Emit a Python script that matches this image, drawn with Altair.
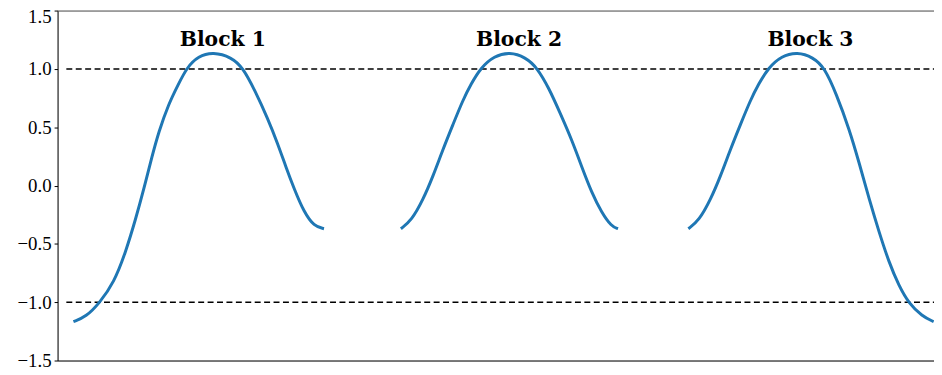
import altair as alt
import pandas as pd

# Curve readings (x in plot units 0..10, y values)
b1_x = [0.181, 0.326, 0.475, 0.645, 0.777, 0.890, 0.984, 1.078, 1.154, 1.267, 1.380, 1.474, 1.606, 1.776,
        1.983, 2.115, 2.248, 2.398, 2.511, 2.605, 2.700, 2.813, 2.927, 3.040]
b1_y = [-1.167, -1.124, -1.01, -0.83, -0.57, -0.29, -0.03, 0.25, 0.46, 0.70, 0.87, 1.01, 1.11, 1.145,
        1.10, 1.01, 0.82, 0.575, 0.36, 0.16, -0.03, -0.23, -0.35, -0.37]

b2_x = [3.917, 4.038, 4.171, 4.284, 4.397, 4.510, 4.623, 4.717, 4.830, 4.981, 5.158,
        5.339, 5.472, 5.603, 5.735, 5.868, 5.981, 6.094, 6.207, 6.320, 6.395]
b2_y = [-0.37, -0.30, -0.12, 0.08, 0.31, 0.52, 0.73, 0.87, 1.01, 1.11, 1.145,
        1.10, 1.01, 0.84, 0.62, 0.39, 0.16, -0.06, -0.23, -0.35, -0.37]

b3_x = [7.197, 7.319, 7.451, 7.564, 7.677, 7.790, 7.904, 7.998, 8.111, 8.261, 8.439,
        8.620, 8.752, 8.883, 9.035, 9.148, 9.261, 9.374, 9.487, 9.600, 9.713, 9.864, 9.996]
b3_y = [-0.37, -0.30, -0.12, 0.08, 0.31, 0.52, 0.73, 0.87, 1.01, 1.11, 1.145,
        1.10, 1.01, 0.79, 0.48, 0.19, -0.12, -0.40, -0.66, -0.86, -1.01, -1.12, -1.167]

label_text = ["Block 1", "Block 2", "Block 3"]
label_x = [1.885, 5.265, 8.59]
label_y = [1.2, 1.2, 1.2]

thresholds = [1.0, -1.0]
dash_start = 0.1
dash_end = 10.0

y_ticks = [-1.5, -1.0, -0.5, 0.0, 0.5, 1.0, 1.5]
y_top = 1.5

rows = []
for name, xs, ys in [("b1", b1_x, b1_y), ("b2", b2_x, b2_y), ("b3", b3_x, b3_y)]:
    for xv, yv in zip(xs, ys):
        rows.append({"x": xv, "y": yv, "block": name})
curve_df = pd.DataFrame(rows)
label_df = pd.DataFrame({"x": label_x, "y": label_y, "text": label_text})
thr_df = pd.DataFrame({"y": thresholds, "x": [dash_start] * 2, "x2": [dash_end] * 2})
top_df = pd.DataFrame({"y": [y_top], "x": [0.0], "x2": [10.0]})

xscale = alt.Scale(domain=[0, 10], nice=False, zero=False)
yscale = alt.Scale(domain=[-1.5, 1.5], nice=False, zero=False)

x_axis = alt.Axis(title=None, labels=False, ticks=False, grid=False, domainColor="black", domainWidth=1)
y_axis = alt.Axis(title=None, values=y_ticks, format=".1f", grid=False, domainColor="black", domainWidth=1,
                  tickColor="black", tickSize=3.5, tickWidth=1, labelPadding=3,
                  labelOffset={"condition": {"test": "datum.value == 1.5", "value": 6}, "value": 0},
                  labelFont="Liberation Serif", labelFontSize=19, labelColor="black")

rules = alt.Chart(thr_df).mark_rule(color="black", strokeWidth=1.5, strokeDash=[6, 3.5], clip=True).encode(
    x=alt.X("x:Q", scale=xscale, axis=x_axis),
    x2="x2:Q",
    y=alt.Y("y:Q", scale=yscale, axis=y_axis),
)

top_line = alt.Chart(top_df).mark_rule(color="#555555", strokeWidth=1, yOffset=0.5).encode(
    x=alt.X("x:Q", scale=xscale, axis=x_axis),
    x2="x2:Q",
    y=alt.Y("y:Q", scale=yscale, axis=y_axis),
)

curves = alt.Chart(curve_df).mark_line(color="#1f77b4", strokeWidth=3, interpolate="basis", clip=True).encode(
    x=alt.X("x:Q", scale=xscale, axis=x_axis),
    y=alt.Y("y:Q", scale=yscale, axis=y_axis),
    detail="block:N",
)

labels = alt.Chart(label_df).mark_text(font="DejaVu Serif", fontWeight="bold", fontSize=20.5,
                                        baseline="alphabetic", align="center", color="black").encode(
    x=alt.X("x:Q", scale=xscale, axis=x_axis),
    y=alt.Y("y:Q", scale=yscale, axis=y_axis),
    text="text:N",
)

chart = alt.layer(rules, top_line, curves, labels).properties(
    width=884, height=353,
    autosize=alt.AutoSizeParams(type="none"),
    padding={"left": 50, "top": 1, "right": 0, "bottom": 12},
).configure_view(strokeWidth=0).configure_axis(
    labelFont="Liberation Serif", labelFontSize=19, labelColor="black"
).configure(background="white")

chart.save("out.html", embed_options={"renderer": "svg", "actions": False})
